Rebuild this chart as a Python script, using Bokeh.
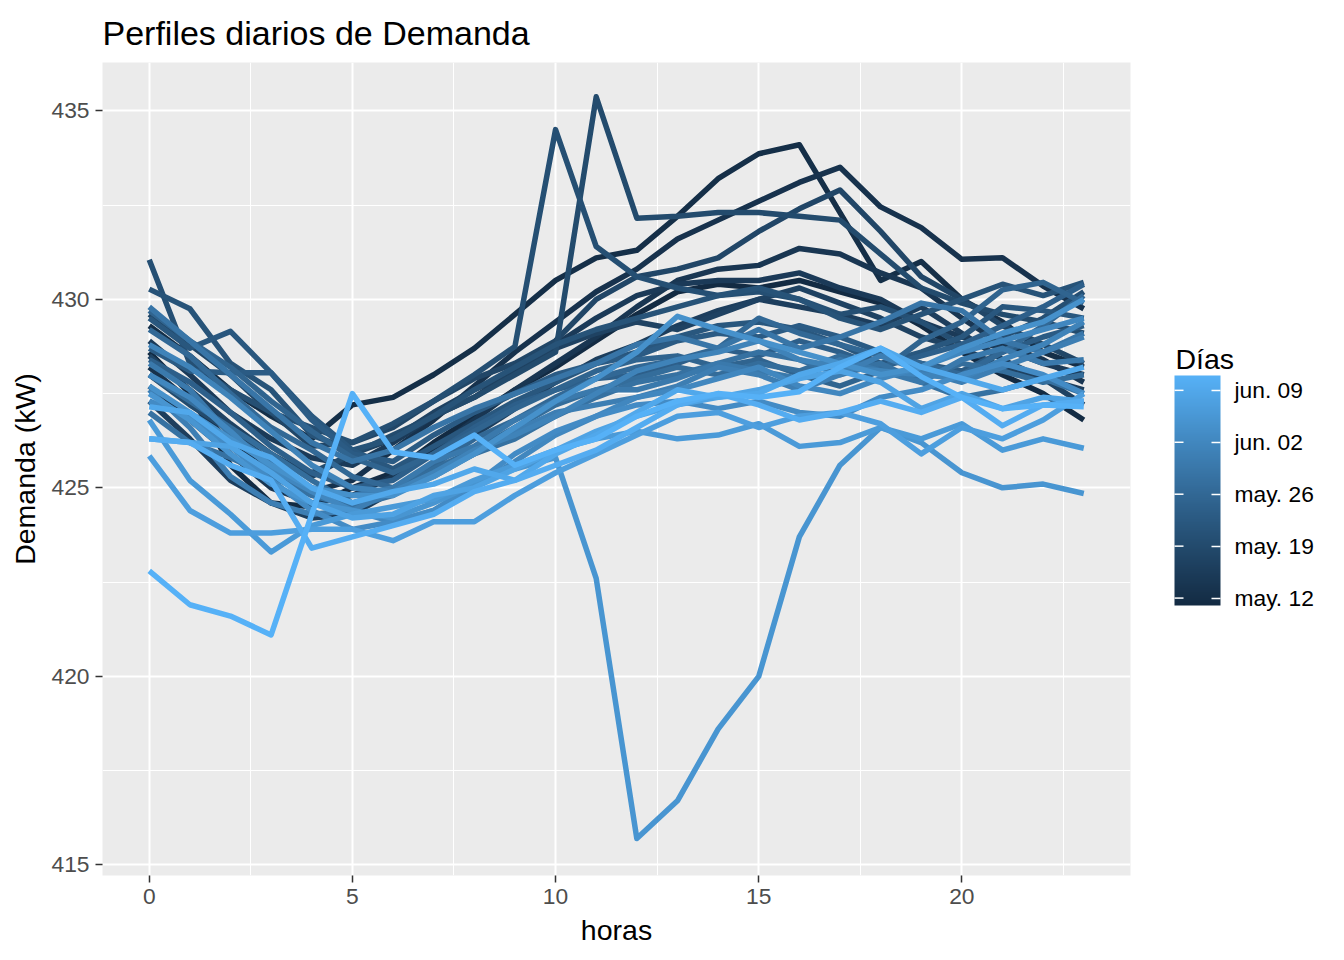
from bokeh.plotting import figure
from bokeh.layouts import row
from bokeh.models import (ColumnDataSource, Range1d, FixedTicker, ColorBar,
                          LinearColorMapper)
from bokeh.core.properties import value
from bokeh.transform import linear_cmap
from bokeh.embed import file_html
from bokeh.resources import INLINE

# ---------------- data ----------------
horas = list(range(24))
dia_num = list(range(32))  # 0 = 11 may ... 31 = 11 jun
fechas = ["may. 11", "may. 12", "may. 13", "may. 14", "may. 15", "may. 16", "may. 17",
          "may. 18", "may. 19", "may. 20", "may. 21", "may. 22", "may. 23", "may. 24",
          "may. 25", "may. 26", "may. 27", "may. 28", "may. 29", "may. 30", "may. 31",
          "jun. 01", "jun. 02", "jun. 03", "jun. 04", "jun. 05", "jun. 06", "jun. 07",
          "jun. 08", "jun. 09", "jun. 10", "jun. 11"]

may11 = [428.6, 427.5, 425.6, 424.6, 424.5, 425.0, 425.4, 426.2, 426.9, 427.6, 428.2, 428.9, 429.6, 430.2, 430.4, 430.3, 430.5, 430.2, 429.9, 429.3, 428.6, 428.0, 427.5, 426.8]
may12 = [429.3, 428.5, 427.6, 426.9, 426.3, 427.2, 427.4, 428.0, 428.7, 429.6, 430.5, 431.1, 431.3, 432.2, 433.2, 433.86, 434.1, 432.3, 430.5, 431.0, 430.0, 429.4, 428.6, 428.2]
may13 = [428.2, 427.3, 426.2, 425.4, 424.9, 425.2, 426.0, 426.8, 427.7, 428.6, 429.4, 430.2, 430.8, 431.6, 432.1, 432.6, 433.1, 433.5, 432.45, 431.9, 431.06, 431.1, 430.35, 429.75]
may14 = [427.7, 426.8, 425.9, 425.0, 424.6, 424.8, 425.3, 426.0, 426.8, 427.6, 428.3, 429.0, 429.8, 430.5, 430.8, 430.9, 431.35, 431.2, 430.7, 430.3, 429.5, 428.8, 428.4, 427.8]
may15 = [428.9, 428.0, 427.0, 426.3, 425.8, 425.6, 426.2, 426.9, 427.4, 428.1, 428.8, 429.5, 430.1, 430.4, 430.5, 430.5, 430.7, 430.3, 430.0, 429.4, 429.0, 428.7, 428.3, 428.0]
may16 = [427.3, 426.3, 425.2, 424.6, 424.2, 424.3, 424.9, 425.6, 426.4, 427.1, 427.8, 428.4, 428.8, 429.3, 429.7, 430.0, 429.8, 429.6, 429.3, 429.8, 429.1, 428.4, 427.9, 427.6]
may17 = [428.5, 427.6, 426.7, 425.9, 425.3, 425.9, 426.3, 427.0, 427.6, 428.1, 428.7, 429.1, 429.4, 429.2, 429.6, 430.0, 430.3, 429.9, 429.5, 429.0, 428.7, 428.2, 427.9, 427.2]
may18 = [429.6, 428.8, 428.0, 427.0, 426.1, 426.2, 426.6, 427.3, 427.9, 428.3, 428.9, 430.0, 430.6, 430.8, 431.1, 431.8, 432.4, 432.9, 431.8, 430.6, 430.0, 429.3, 428.8, 428.3]
may19 = [428.0, 427.2, 426.5, 425.7, 425.4, 425.9, 426.4, 426.9, 427.4, 428.0, 428.6, 435.37, 432.15, 432.2, 432.3, 432.3, 432.2, 432.1, 431.2, 430.3, 429.9, 429.6, 429.4, 429.1]
may20 = [431.05, 428.3, 427.6, 427.0, 426.6, 426.2, 426.7, 427.3, 428.0, 428.75, 434.5, 431.4, 430.6, 430.3, 430.1, 430.2, 430.0, 429.6, 429.8, 429.4, 428.8, 429.0, 429.5, 430.2]
may21 = [430.27, 429.75, 428.3, 427.6, 426.4, 426.0, 426.3, 426.9, 427.6, 428.2, 428.8, 429.2, 429.5, 429.8, 430.1, 430.3, 430.0, 429.5, 429.2, 429.6, 430.0, 430.4, 430.1, 430.45]
may22 = [429.5, 428.7, 429.15, 428.05, 426.9, 426.0, 425.5, 426.1, 426.7, 427.3, 427.8, 428.3, 428.6, 429.0, 429.3, 429.4, 429.2, 428.8, 428.3, 428.6, 429.0, 429.8, 429.7, 429.5]
may23 = [428.7, 428.1, 428.05, 428.05, 426.8, 425.9, 425.7, 426.4, 427.0, 427.5, 428.0, 428.3, 428.5, 428.9, 429.1, 429.0, 429.3, 429.0, 428.6, 428.3, 428.1, 428.6, 429.0, 429.3]
may24 = [428.4, 427.8, 427.0, 426.1, 425.4, 425.0, 425.2, 425.9, 426.6, 427.2, 427.6, 427.9, 428.0, 428.3, 428.7, 428.5, 428.9, 428.6, 428.2, 428.5, 428.8, 429.3, 429.8, 430.4]
may25 = [429.7, 428.9, 428.2, 427.3, 426.5, 425.8, 425.4, 425.9, 426.5, 427.1, 427.6, 428.1, 428.4, 428.5, 428.2, 428.4, 428.0, 427.7, 428.1, 428.9, 429.4, 430.25, 430.45, 429.9]
may26 = [429.2, 428.5, 427.5, 426.6, 426.0, 425.3, 425.0, 425.6, 426.3, 426.8, 427.4, 427.9, 428.2, 428.4, 428.7, 429.5, 429.1, 428.8, 428.5, 428.3, 428.0, 428.6, 429.3, 430.1]
may27 = [428.0, 427.3, 426.6, 425.9, 425.2, 424.6, 424.9, 425.5, 426.0, 426.6, 427.2, 427.6, 427.9, 428.2, 428.0, 428.3, 428.1, 428.5, 428.2, 427.9, 428.3, 428.1, 427.8, 428.0]
may28 = [427.0, 426.2, 425.8, 425.3, 424.8, 424.5, 424.8, 425.4, 425.9, 426.3, 426.9, 427.4, 427.8, 428.0, 428.3, 428.6, 428.4, 428.0, 428.3, 427.8, 427.4, 427.6, 427.9, 427.5]
may29 = [429.8, 428.9, 428.0, 427.1, 426.2, 425.7, 426.0, 426.6, 427.1, 427.5, 427.9, 428.3, 428.8, 429.0, 428.7, 429.2, 428.7, 429.0, 429.4, 429.9, 429.7, 428.9, 428.6, 429.1]
may30 = [428.3, 427.6, 426.4, 425.7, 425.0, 424.8, 425.0, 425.7, 426.1, 426.8, 427.3, 427.6, 427.6, 427.9, 428.3, 428.1, 427.9, 428.4, 428.1, 427.8, 428.4, 428.7, 428.3, 428.4]
may31 = [427.6, 426.6, 425.3, 424.6, 424.3, 424.4, 424.9, 425.3, 425.9, 426.5, 427.0, 427.2, 427.4, 427.7, 428.2, 428.0, 427.6, 428.0, 428.5, 428.1, 427.8, 428.2, 428.6, 429.0]
jun01 = [428.8, 428.2, 427.4, 426.5, 425.6, 425.0, 424.9, 425.4, 426.0, 426.4, 426.9, 427.5, 428.1, 428.4, 428.6, 428.9, 428.4, 428.2, 428.1, 428.0, 427.9, 428.4, 428.8, 429.4]
jun02 = [428.0, 427.4, 426.5, 425.5, 424.9, 424.4, 424.1, 424.4, 425.0, 425.7, 426.4, 426.9, 427.4, 427.6, 427.9, 428.2, 427.7, 427.5, 427.9, 428.2, 428.6, 428.9, 429.2, 429.5]
jun03 = [427.3, 426.9, 426.1, 425.2, 424.4, 423.9, 424.1, 424.4, 425.1, 425.9, 426.5, 426.9, 427.2, 427.3, 427.1, 427.3, 427.0, 426.9, 427.4, 427.6, 428.0, 428.3, 428.0, 427.5]
jun04 = [427.7, 427.0, 426.3, 425.6, 425.0, 424.8, 424.8, 425.3, 425.9, 426.6, 427.3, 427.9, 428.6, 429.55, 429.2, 428.9, 428.6, 428.3, 428.0, 428.2, 428.7, 429.1, 429.4, 430.0]
jun05 = [427.5, 426.8, 425.9, 425.1, 424.6, 424.4, 424.2, 424.6, 425.1, 425.5, 425.8, 422.6, 415.7, 416.7, 418.6, 420.0, 423.7, 425.6, 426.6, 426.2, 425.4, 425.0, 425.1, 424.85]
jun06 = [426.8, 425.2, 424.3, 423.3, 424.0, 424.3, 424.5, 424.7, 425.2, 425.6, 426.0, 426.3, 426.5, 426.3, 426.4, 426.7, 426.1, 426.2, 426.6, 426.3, 426.7, 426.0, 426.3, 426.05]
jun07 = [425.85, 424.4, 423.8, 423.8, 423.9, 423.9, 423.6, 424.1, 424.1, 424.8, 425.4, 425.9, 426.4, 426.9, 427.0, 426.6, 426.9, 427.0, 426.7, 425.9, 426.6, 426.3, 426.8, 427.5]
jun08 = [426.3, 426.2, 426.1, 425.4, 424.6, 424.2, 424.3, 424.8, 425.0, 425.5, 426.0, 426.5, 426.9, 427.2, 427.4, 427.6, 427.9, 428.1, 427.8, 427.1, 427.5, 427.1, 427.4, 427.3]
jun09 = [427.15, 427.0, 426.2, 425.8, 425.0, 424.6, 424.9, 425.1, 425.5, 425.2, 425.9, 426.4, 427.0, 427.6, 427.4, 427.5, 428.0, 428.3, 428.7, 428.2, 427.9, 427.6, 427.9, 428.2]
jun10 = [426.3, 426.2, 425.6, 425.2, 423.4, 423.7, 424.0, 424.3, 424.9, 425.2, 425.6, 426.0, 426.6, 427.2, 427.5, 427.2, 426.8, 427.0, 427.3, 427.0, 427.4, 426.65, 427.2, 427.3]
jun11 = [422.8, 421.9, 421.6, 421.1, 424.3, 427.5, 425.95, 425.8, 426.4, 425.6, 426.0, 426.3, 426.9, 427.3, 427.5, 427.4, 427.55, 428.2, 428.7, 427.95, 427.4, 427.1, 427.2, 427.15]

perfiles = [may11, may12, may13, may14, may15, may16, may17, may18, may19, may20,
            may21, may22, may23, may24, may25, may26, may27, may28, may29, may30,
            may31, jun01, jun02, jun03, jun04, jun05, jun06, jun07, jun08, jun09,
            jun10, jun11]

ticks_leyenda = [1, 8, 15, 22, 29]
x_ticks = [0, 5, 10, 15, 20]
y_ticks = [415, 420, 425, 430, 435]

# ---------------- colour gradient (Lab interpolation, like ggplot) -------------
def _hex_to_rgb(h):
    h = h.lstrip("#")
    return [int(h[i:i + 2], 16) / 255 for i in (0, 2, 4)]

def _rgb_to_lab(rgb):
    lin = [c / 12.92 if c <= 0.04045 else ((c + 0.055) / 1.055) ** 2.4 for c in rgb]
    X = 0.4124564 * lin[0] + 0.3575761 * lin[1] + 0.1804375 * lin[2]
    Y = 0.2126729 * lin[0] + 0.7151522 * lin[1] + 0.0721750 * lin[2]
    Z = 0.0193339 * lin[0] + 0.1191920 * lin[1] + 0.9503041 * lin[2]
    Xn, Yn, Zn = 0.95047, 1.0, 1.08883
    def f(t):
        return t ** (1 / 3) if t > 216 / 24389 else (24389 / 27 * t + 16) / 116
    fx, fy, fz = f(X / Xn), f(Y / Yn), f(Z / Zn)
    return [116 * fy - 16, 500 * (fx - fy), 200 * (fy - fz)]

def _lab_to_hex(lab):
    L, a, b = lab
    fy = (L + 16) / 116
    fx = fy + a / 500
    fz = fy - b / 200
    def finv(t):
        return t ** 3 if t ** 3 > 216 / 24389 else (116 * t - 16) / (24389 / 27)
    X, Y, Z = 0.95047 * finv(fx), finv(fy), 1.08883 * finv(fz)
    r = 3.2404542 * X - 1.5371385 * Y - 0.4985314 * Z
    g = -0.9692660 * X + 1.8760108 * Y + 0.0415560 * Z
    bb = 0.0556434 * X - 0.2040259 * Y + 1.0572252 * Z
    out = []
    for c in (r, g, bb):
        c = max(0.0, c)
        c = 12.92 * c if c <= 0.0031308 else 1.055 * c ** (1 / 2.4) - 0.055
        out.append(max(0, min(255, round(c * 255))))
    return "#%02x%02x%02x" % tuple(out)

lab_lo = _rgb_to_lab(_hex_to_rgb("#132B43"))
lab_hi = _rgb_to_lab(_hex_to_rgb("#56B1F7"))
paleta = [_lab_to_hex([lab_lo[k] + (lab_hi[k] - lab_lo[k]) * i / 255 for k in range(3)])
          for i in range(256)]

# ---------------- main figure ----------------
FONT = "Liberation Sans"
FRAME_H = 813
TOP, BOTTOM = 62, 75

p = figure(frame_width=1028, frame_height=FRAME_H,
           min_border_left=102, min_border_top=TOP, min_border_bottom=BOTTOM, min_border_right=14,
           x_range=Range1d(-1.15, 24.15), y_range=Range1d(414.72, 436.28),
           output_backend="svg", toolbar_location=None,
           title="Perfiles diarios de Demanda")

p.background_fill_color = "#EBEBEB"
p.border_fill_color = "white"
p.outline_line_color = None

p.title.text_font = FONT
p.title.text_font_size = "34px"
p.title.text_font_style = "normal"
p.title.text_color = "black"
p.title.align = "left"
p.title.standoff = 21

source = ColumnDataSource(dict(
    xs=[horas for _ in perfiles],
    ys=perfiles,
    dia=dia_num,
    fecha=fechas,
))

p.multi_line("xs", "ys", source=source, line_width=5.5, line_join="round",
             line_color=linear_cmap("dia", paleta, 0, 31))

p.xaxis.ticker = FixedTicker(ticks=x_ticks, minor_ticks=[2.5, 7.5, 12.5, 17.5, 22.5])
p.yaxis.ticker = FixedTicker(ticks=y_ticks, minor_ticks=[417.5, 422.5, 427.5, 432.5])
for ax in (p.xaxis, p.yaxis):
    ax.axis_line_color = None
    ax.major_tick_line_color = "#333333"
    ax.major_tick_line_width = 1.5
    ax.major_tick_out = 7
    ax.major_tick_in = 0
    ax.minor_tick_line_color = None
    ax.major_label_text_font = FONT
    ax.major_label_text_font_size = "22.8px"
    ax.major_label_text_color = "#4D4D4D"
    ax.axis_label_text_font = FONT
    ax.axis_label_text_font_size = "28.5px"
    ax.axis_label_text_font_style = "normal"
    ax.axis_label_text_color = "black"
    ax.major_label_standoff = 6
    ax.axis_label_standoff = 7

p.xaxis.axis_label = "horas"
p.yaxis.axis_label = "Demanda (kW)"

p.xgrid.grid_line_color = "white"
p.ygrid.grid_line_color = "white"
p.xgrid.grid_line_width = 2
p.ygrid.grid_line_width = 2
p.xgrid.minor_grid_line_color = "white"
p.ygrid.minor_grid_line_color = "white"
p.xgrid.minor_grid_line_width = 1
p.ygrid.minor_grid_line_width = 1

# ---------------- legend panel (colour bar) ----------------
LEG_W = 180
BAR_X = 30                       # bar left edge inside legend panel
BAR_BOTTOM = (TOP + FRAME_H) - 605   # bar bottom, measured up from the frame bottom
BAR_W, BAR_H = 46, 230

leg = figure(frame_width=LEG_W, frame_height=FRAME_H,
             min_border_left=0, min_border_right=0,
             min_border_top=TOP, min_border_bottom=BOTTOM,
             x_range=Range1d(0, LEG_W), y_range=Range1d(0, FRAME_H),
             x_axis_location=None, y_axis_location=None,
             output_backend="svg", toolbar_location=None)
leg.grid.visible = False
leg.outline_line_color = None
leg.background_fill_color = "white"
leg.border_fill_color = "white"

mapper = LinearColorMapper(palette=paleta, low=0, high=31)
cb = ColorBar(color_mapper=mapper,
              ticker=FixedTicker(ticks=ticks_leyenda),
              major_label_overrides={t: fechas[t] for t in ticks_leyenda},
              major_label_text_font=FONT, major_label_text_font_size="22.8px",
              major_label_text_color="black",
              width=BAR_W, height=BAR_H, label_standoff=14,
              major_tick_line_color="white", major_tick_line_width=1.5,
              major_tick_in=9, major_tick_out=0,
              bar_line_color=None, border_line_color=None,
              background_fill_color=None,
              location=(BAR_X - 10, BAR_BOTTOM - 10), margin=0, padding=10)
leg.add_layout(cb, "center")

# white ticks on the left side of the bar (ggplot draws them on both sides)
tick_y = [BAR_BOTTOM + (t - mapper.low) / (mapper.high - mapper.low) * BAR_H for t in ticks_leyenda]
ticks_r = leg.segment(x0=[BAR_X] * len(tick_y), x1=[BAR_X + 9] * len(tick_y), y0=tick_y, y1=tick_y,
                      line_color="white", line_width=1.5)
ticks_r.level = "overlay"

leg.text(x=[BAR_X + 1], y=[(TOP + FRAME_H) - 358], text=["Días"], text_font=value(FONT),
         text_font_size="28.5px", text_color="black", text_baseline="alphabetic")

layout = row(p, leg)
open("out.html", "w").write(file_html(layout, INLINE))
